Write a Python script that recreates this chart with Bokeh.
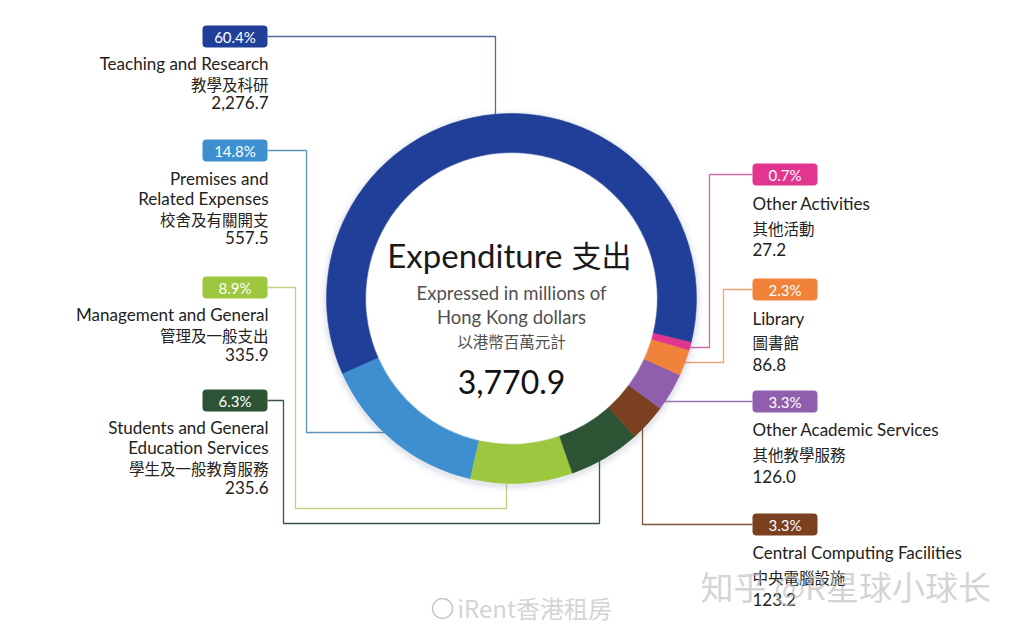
import numpy as np
from bokeh.plotting import figure
from bokeh.models import Range1d
from bokeh.core.properties import value
from bokeh.embed import file_html
from bokeh.resources import INLINE

# ---------------- data (counter-clockwise order around the ring) ----------------
categories_en = [
    ["Premises and", "Related Expenses"],
    ["Management and General"],
    ["Students and General", "Education Services"],
    ["Central Computing Facilities"],
    ["Other Academic Services"],
    ["Library"],
    ["Other Activities"],
    ["Teaching and Research"],
]
categories_zh = ["校舍及有關開支", "管理及一般支出", "學生及一般教育服務", "中央電腦設施",
                 "其他教學服務", "圖書館", "其他活動", "教學及科研"]
values = [557.5, 335.9, 235.6, 123.2, 126.0, 86.8, 27.2, 2276.7]
value_labels = ["557.5", "335.9", "235.6", "123.2", "126.0", "86.8", "27.2", "2,276.7"]
percents = ["14.8%", "8.9%", "6.3%", "3.3%", "3.3%", "2.3%", "0.7%", "60.4%"]
colors = ["#3d8fd0", "#9cc73f", "#2c5434", "#7b4020", "#8f5fae", "#f0823a", "#e2358f", "#203f98"]
line_colors = ["#5b93bd", "#c2cf86", "#3b5343", "#80553c", "#9a78b4", "#eba27a", "#cf6aa8", "#4d6b9c"]
title_en = "Expenditure"
title_zh = "支出"
subtitle = ["Expressed in millions of", "Hong Kong dollars", "以港幣百萬元計"]
total_label = "3,770.9"

# ---------------- layout ----------------
W, H = 1024, 631
def Y(v):
    return H - v

CX, CY = 511, 298
R_IN, R_OUT = 146, 185
START_DEG = 203.9

p = figure(width=W, height=H, output_backend="svg", toolbar_location=None,
           x_range=Range1d(0, W), y_range=Range1d(0, H), min_border=0)
p.axis.visible = False
p.grid.visible = False
p.outline_line_color = None
p.background_fill_color = "white"
p.border_fill_color = "white"

# label layout: side, box centre y, text line y positions
layout = [
    dict(side="L", box=150, ys=[178, 198, 218, 237],
         path=[(267, 150), (306, 150), (306, 432), (390, 432)]),
    dict(side="L", box=287, ys=[314, 334, 354],
         path=[(267, 287), (295, 287), (295, 508), (506, 508), (506, 470)]),
    dict(side="L", box=400, ys=[427, 447, 467, 487],
         path=[(267, 400), (283, 400), (283, 523), (599, 523), (599, 450)]),
    dict(side="R", box=524, ys=[552, 576, 599],
         path=[(752, 524), (642, 524), (642, 425)]),
    dict(side="R", box=401, ys=[429, 453, 476],
         path=[(752, 401), (655, 401)]),
    dict(side="R", box=289, ys=[318, 341, 364],
         path=[(752, 289), (723, 289), (723, 362), (680, 362)]),
    dict(side="R", box=174, ys=[203, 227, 249],
         path=[(752, 174), (709, 174), (709, 347), (680, 347)]),
    dict(side="L", box=36, ys=[63, 83, 102],
         path=[(267, 36), (495, 36), (495, 125)]),
]

# leader lines (under the ring)
for i, lay in enumerate(layout):
    xs = [pt[0] for pt in lay["path"]]
    ys = [Y(pt[1]) for pt in lay["path"]]
    p.line(xs, ys, line_color=line_colors[i], line_width=1.3)

# soft shadow of the ring
for k, a in [(7, 0.035), (4, 0.05), (2, 0.06)]:
    p.annular_wedge(x=[CX], y=[Y(CY) - 2], inner_radius=R_IN - k, outer_radius=R_OUT + k,
                    start_angle=[0], end_angle=[2 * np.pi], fill_color="#5a6a90",
                    fill_alpha=a, line_color=None)
p.circle(x=[CX], y=[Y(CY)], radius=R_IN - 1, fill_color="white", line_color=None)

# ring
vals = np.array(values)
frac = vals / vals.sum()
ends = np.radians(START_DEG) + np.cumsum(frac) * 2 * np.pi
starts = ends - frac * 2 * np.pi
p.annular_wedge(x=CX, y=Y(CY), inner_radius=R_IN, outer_radius=R_OUT,
                start_angle=list(starts), end_angle=list(ends),
                fill_color=colors, line_color=colors, line_width=0.5)

EN = value("Lato")
ZH = value("Noto Sans CJK TC")

# labels
for i, lay in enumerate(layout):
    left = lay["side"] == "L"
    bx = 267 if left else 752
    bw, bh = 65, 22
    cx = bx - bw / 2 if left else bx + bw / 2
    p.rect(x=[cx], y=[Y(lay["box"])], width=bw, height=bh, fill_color=colors[i],
           line_color=None, border_radius=4)
    p.text(x=[cx], y=[Y(lay["box"])], text=[percents[i]], text_font=EN,
           text_font_size="15px", text_color="white", text_align="center",
           text_baseline="middle")
    lines = categories_en[i] + [categories_zh[i], value_labels[i]]
    fonts = ["en"] * len(categories_en[i]) + ["zh", "en"]
    tx = 268 if left else 752
    align = "right" if left else "left"
    for txt, f, yy in zip(lines, fonts, lay["ys"]):
        p.text(x=[tx], y=[Y(yy)], text=[txt], text_font=EN if f == "en" else ZH,
               text_font_size="17px" if f == "en" else "15.5px", text_color="#222222",
               text_align=align, text_baseline="middle")

# centre text
p.text(x=[562], y=[Y(254)], text=[title_en], text_font=EN, text_font_size="33px",
       text_color="#1a1a1a", text_align="right", text_baseline="middle")
p.text(x=[571], y=[Y(253)], text=[title_zh], text_font=ZH, text_font_size="30px",
       text_color="#1a1a1a", text_align="left", text_baseline="middle")
p.text(x=[CX], y=[Y(292)], text=[subtitle[0]], text_font=EN, text_font_size="18.5px",
       text_color="#505050", text_align="center", text_baseline="middle")
p.text(x=[CX], y=[Y(316)], text=[subtitle[1]], text_font=EN, text_font_size="18.5px",
       text_color="#505050", text_align="center", text_baseline="middle")
p.text(x=[CX], y=[Y(340)], text=[subtitle[2]], text_font=ZH, text_font_size="15.5px",
       text_color="#505050", text_align="center", text_baseline="middle")
p.text(x=[CX], y=[Y(381)], text=[total_label], text_font=EN, text_font_size="32px",
       text_color="#111111", text_align="center", text_baseline="middle")

# watermarks
p.text(x=[457], y=[Y(607)], text=["iRent香港租房"], text_font=ZH, text_font_size="24px",
       text_color="#c8c8c8", text_alpha=0.8, text_align="left", text_baseline="middle")
p.circle(x=[442], y=[Y(608)], radius=10, fill_color=None, line_color="#c8c8c8",
         line_width=1.5)
p.text(x=[700], y=[Y(585)], text=["知乎 @R星球小球长"], text_font=ZH, text_font_size="33px",
       text_color="#b8b8b8", text_alpha=0.6, text_align="left", text_baseline="middle")

open("out.html", "w").write(file_html(p, INLINE))
